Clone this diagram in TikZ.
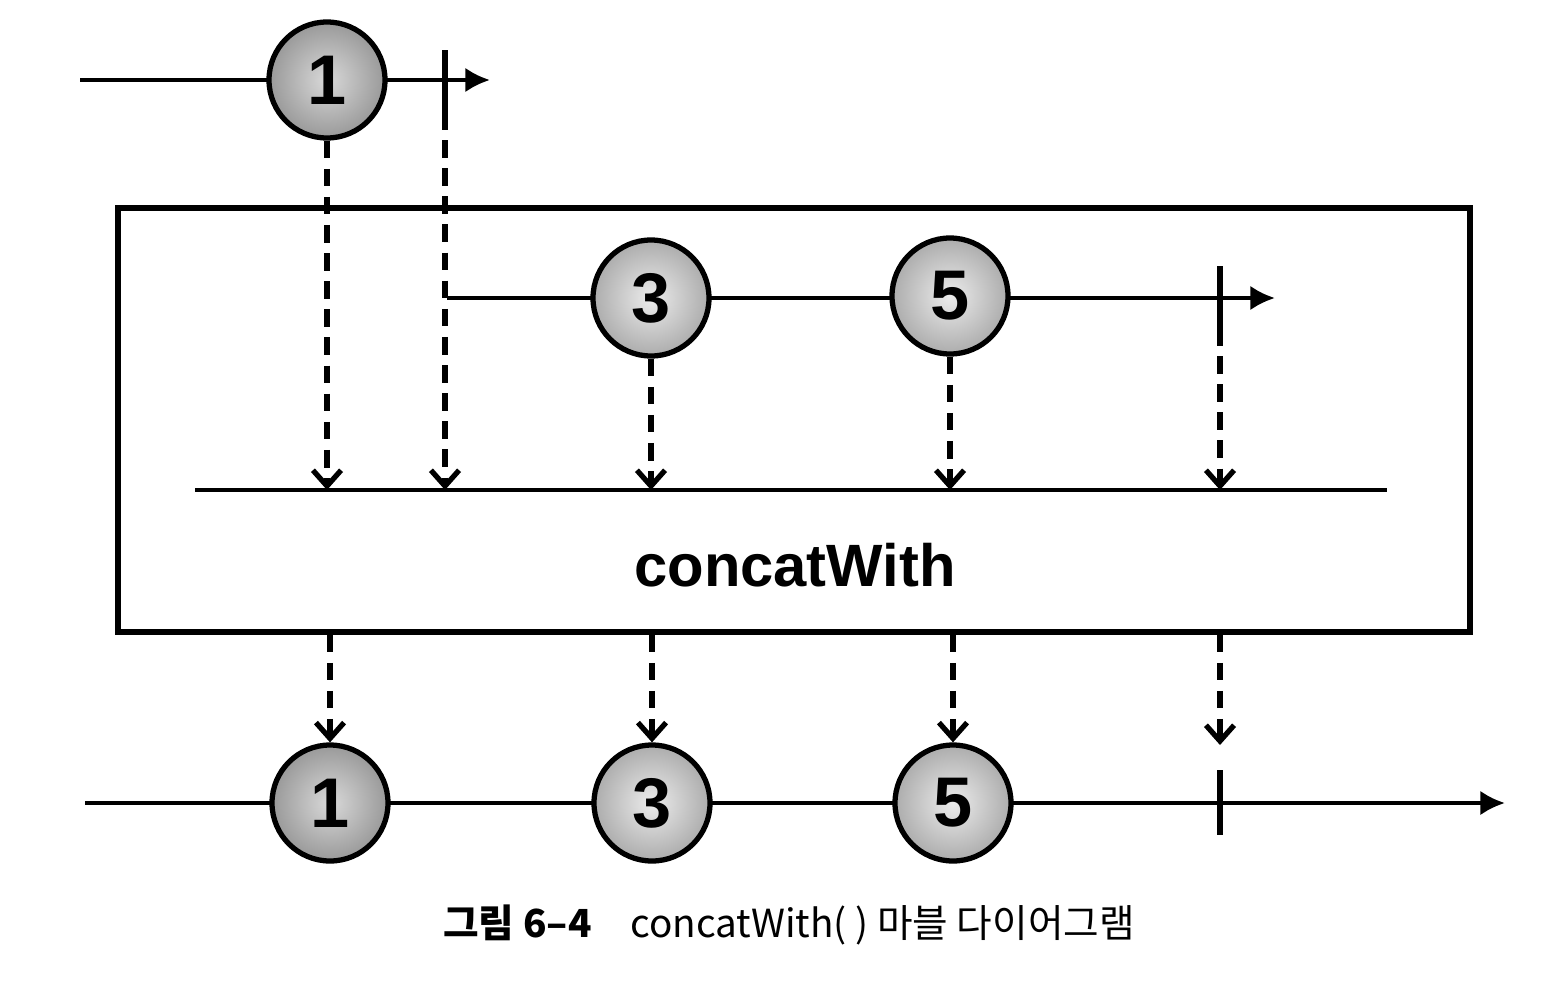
\documentclass[tikz,border=0pt]{standalone}
\usepackage{fontspec}
\setmainfont{Liberation Sans}
\newfontfamily\kr{Noto Sans CJK KR}
\usetikzlibrary{positioning,arrows.meta,shadings}
\usepackage{xcolor}

\begin{document}
\begin{tikzpicture}
[line width=1.2pt,
% The marble style is used to draw the items of each sequence
marble/.style={circle, draw, line width=1.5pt, minimum size=1.16cm, inner sep=0pt, shading=radial, inner color=gray!15, outer color=gray!65, font=\fontsize{20}{20}\selectfont\bfseries},
dark/.style={inner color=gray!30, outer color=gray!80},
% The flow style is used to draw the time lines
flow/.style={line width=1.2pt, -{Latex[length=7pt,width=7pt]}},
% The emit style is used to draw the dashed arrows
emit/.style={line width=1.5pt, dash pattern=on 5pt off 3pt, -{Straight Barb[length=4.5pt,width=8pt]}},
stop/.style={line width=1.8pt},
op/.style={rectangle, draw, line width=1.5pt, minimum width=13.52cm, minimum height=4.24cm, inner sep=0pt}
]
\useasboundingbox (0,0) rectangle (15.5,10.06);
% Draw operator box
\draw(7.94,5.86)node[op](box){};
\draw(7.95,4.41)node[font=\fontsize{17}{17}\selectfont\bfseries](name){concatWith};
% Draw first sequence
\coordinate (s1) at (0.80,9.26);
\coordinate (e1) at (4.90,9.26);
\coordinate (t1a) at (4.45,9.56);
\coordinate (t1b) at (4.45,8.94);
\draw[flow](s1)--(e1);
\draw[stop](t1a)--(t1b);
\draw(3.27,9.26)node[marble,dark](a1){1};
% Draw second sequence
\coordinate (s2) at (4.47,7.08);
\coordinate (e2) at (12.75,7.08);
\coordinate (t2a) at (12.20,7.40);
\coordinate (t2b) at (12.20,6.78);
\draw[flow](s2)--(e2);
\draw[stop](t2a)--(t2b);
\draw(6.51,7.08)node[marble](a3){3};
\draw(9.50,7.10)node[marble](a5){5};
% Draw merged line
\coordinate (mL) at (1.95,5.16);
\coordinate (mR) at (13.87,5.16);
\draw(mL)--(mR);
\draw[emit](a1.south)--(a1 |- mL);
\draw[emit](t1b)--(t1b |- mL);
\draw[emit](a3.south)--(a3 |- mL);
\draw[emit](a5.south)--(a5 |- mL);
\draw[emit](t2b)--(t2b |- mL);
% Draw result sequence
\coordinate (s3) at (0.85,2.03);
\coordinate (e3) at (15.05,2.03);
\coordinate (t3a) at (12.20,2.36);
\coordinate (t3b) at (12.20,1.71);
\draw[flow](s3)--(e3);
\draw[stop](t3a)--(t3b);
\draw(3.30,2.03)node[marble,dark](b1){1};
\draw(6.52,2.03)node[marble](b3){3};
\draw(9.53,2.03)node[marble](b5){5};
\draw[emit](b1 |- box.south)--(b1.north);
\draw[emit](b3 |- box.south)--(b3.north);
\draw[emit](b5 |- box.south)--(b5.north);
\draw[emit](t3a |- box.south)--([yshift=0.25cm]t3a);
% Caption
\draw(7.89,0.81)node[font=\kr\fontsize{11}{13}\selectfont](cap){\textbf{그림 6–4}\hspace{1em}concatWith( ) 마블 다이어그램};
\end{tikzpicture}
\end{document}
